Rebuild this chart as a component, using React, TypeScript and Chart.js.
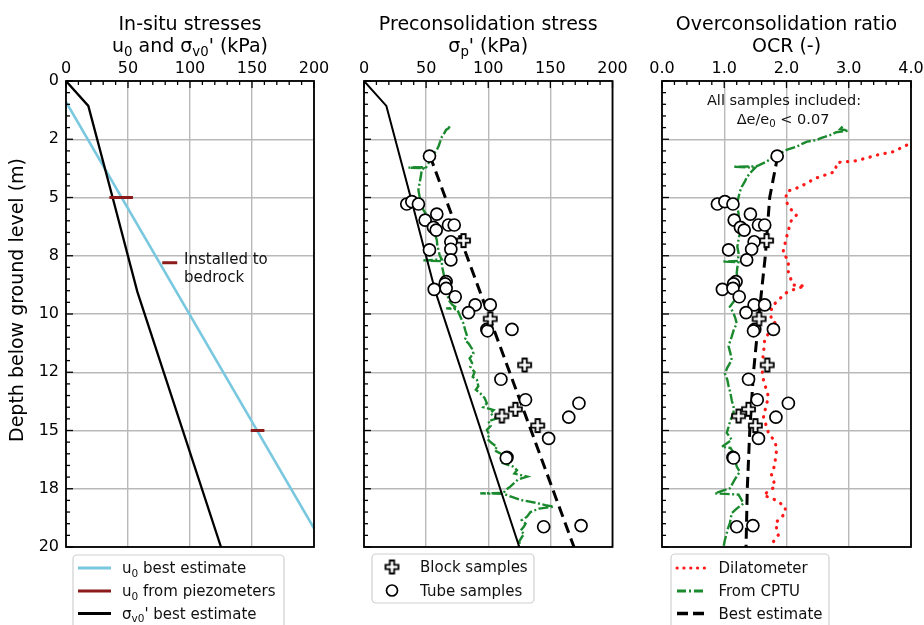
import React, { useEffect, useRef } from 'react';
import { Chart, registerables } from 'chart.js';
Chart.register(...registerables);

const FONT = "'DejaVu Sans', 'Liberation Sans', sans-serif";
const GRID = '#b9b9b9';

// ---------------- data ----------------
type Pt = [number, number]; // [depth (m), value]

const depthTickValues = [0, 2.5, 5, 7.5, 10, 12.5, 15, 17.5, 20];
const depthTickLabels = ['0', '2', '5', '8', '10', '12', '15', '18', '20'];
const stressTickValues = [0, 50, 100, 150, 200];
const stressTickLabels = ['0', '50', '100', '150', '200'];
const ocrTickValues = [0, 1, 2, 3, 4];
const ocrTickLabels = ['0.0', '1.0', '2.0', '3.0', '4.0'];

// panel 1
const u0Line: Pt[] = [[0.9, 0], [19.2, 200]];
const sigmaV0Line: Pt[] = [[0, 0], [1.07, 18], [5.0, 37.6], [9.04, 57.5], [20, 125]];
const piezoDepth = [5.0, 7.8, 15.0];
const piezoLowKpa = [35, 77.6, 149];
const piezoHighKpa = [54, 89.7, 160];

// panel 2
const cptuStress: Pt[] = [
  [1.95, 69], [2.03, 68], [2.1, 66], [2.17, 65.3], [2.3, 64], [2.45, 62], [2.6, 61.3], [2.8, 60], [2.96, 58.6],
  [3.1, 56.5], [3.25, 54.6], [3.4, 53], [3.53, 51.9], [3.7, 50], [3.72, 35.7], [3.74, 48], [3.82, 46.5],
  [4.0, 46], [4.25, 45.2], [4.45, 44.5], [4.68, 43.8], [4.9, 44.5], [5.1, 45.2], [5.3, 46.5], [5.54, 47.8],
  [5.75, 50.5], [5.97, 53.2], [6.2, 54.5], [6.4, 55.9], [6.6, 57.2], [6.82, 58.6], [7.05, 59], [7.25, 59.9],
  [7.5, 61], [7.66, 62.7], [7.7, 47.8], [7.73, 62.5], [8.0, 63], [8.25, 64], [8.5, 65], [8.83, 66.1],
  [9.1, 67], [9.4, 68], [9.6, 71], [9.74, 74.7], [9.76, 66.1], [9.8, 75], [10.1, 77.4], [10.4, 80],
  [10.7, 81.5], [10.95, 83], [11.1, 81], [11.26, 84.1], [11.5, 87], [11.7, 88.1], [11.9, 85], [12.1, 87],
  [12.26, 85.5], [12.5, 89], [12.7, 87.5], [12.83, 90.9], [13.1, 92], [13.25, 90], [13.4, 93.5], [13.6, 97],
  [13.83, 98.9], [14.0, 96], [14.12, 104.3], [14.26, 101.6], [14.48, 107], [14.6, 100], [14.8, 102],
  [14.98, 98.9], [15.2, 101], [15.35, 99], [15.55, 103], [15.7, 107], [15.85, 105], [16.05, 112],
  [16.27, 115.1], [16.4, 112], [16.55, 120], [16.7, 123.1], [16.85, 121], [16.98, 131.2], [17.1, 124],
  [17.25, 121], [17.41, 117.7], [17.55, 114], [17.68, 112.3], [17.7, 93.5], [17.72, 112.3], [17.85, 119],
  [17.98, 125.8], [18.1, 138], [18.2, 146], [18.27, 152.7], [18.35, 141], [18.5, 134], [18.7, 131.2],
  [18.85, 127], [19.0, 130], [19.13, 128.6], [19.3, 126], [19.45, 129], [19.56, 127.2], [19.75, 125],
  [19.91, 125.3], [20.0, 124]
];
const bestStress: Pt[] = [[3.2, 53], [20, 169]];

// samples (shared depths)
const tubeDepth = [3.22, 5.28, 5.18, 5.28, 5.97, 5.71, 6.28, 6.40, 6.18, 6.18, 6.90, 7.22, 7.25, 7.68, 8.61, 8.71, 8.94,
  8.90, 9.26, 9.61, 9.94, 9.61, 10.66, 10.72, 10.66, 12.80, 13.68, 13.83, 14.43, 15.34, 16.15, 16.18, 19.13, 19.08];
const tubeKpa = [52.7, 34.4, 38.5, 43.8, 49.2, 58.6, 55.9, 58.1, 68.0, 72.6, 69.9, 69.9, 52.7, 69.9, 66.1, 65.3, 56.5,
  66.1, 73.4, 89.5, 84.1, 101.6, 98.9, 99.4, 119.1, 110.2, 130.0, 173.0, 164.8, 148.6, 115.1, 114.5, 144.6, 174.7];
const tubeOcr = [1.85, 0.89, 1.01, 1.14, 1.16, 1.42, 1.26, 1.32, 1.55, 1.65, 1.48, 1.44, 1.07, 1.36, 1.19, 1.15, 0.97,
  1.14, 1.24, 1.48, 1.35, 1.65, 1.49, 1.47, 1.79, 1.39, 1.53, 2.03, 1.83, 1.55, 1.14, 1.15, 1.20, 1.46];
const blockDepth = [6.85, 10.21, 12.19, 14.38, 14.09, 14.79];
const blockKpa = [80.1, 101.6, 129.3, 111.0, 121.8, 139.8];
const blockOcr = [1.68, 1.56, 1.69, 1.23, 1.39, 1.50];

// panel 3
const cptuOcrLine: Pt[] = [
  [1.95, 2.9], [2.07, 2.86], [2.13, 2.99], [2.2, 2.8], [2.32, 2.7], [2.45, 2.55], [2.53, 2.49], [2.6, 2.33],
  [2.7, 2.25], [2.82, 2.16], [2.96, 2.0], [3.1, 1.9], [3.25, 1.79], [3.46, 1.68], [3.66, 1.52], [3.68, 1.15],
  [3.72, 1.5], [3.96, 1.41], [4.15, 1.36], [4.32, 1.33], [4.55, 1.28], [4.75, 1.25], [5.1, 1.22], [5.39, 1.21],
  [5.7, 1.23], [5.97, 1.23], [6.25, 1.24], [6.54, 1.25], [6.8, 1.23], [7.11, 1.21], [7.4, 1.23], [7.72, 1.22],
  [7.75, 0.98], [7.78, 1.23], [8.0, 1.21], [8.25, 1.2], [8.55, 1.22], [8.83, 1.21], [9.1, 1.19], [9.4, 1.17],
  [9.69, 1.09], [9.97, 1.15], [10.2, 1.18], [10.4, 1.2], [10.7, 1.15], [10.97, 1.12], [11.2, 1.09],
  [11.4, 1.07], [11.7, 1.1], [11.97, 1.12], [12.3, 1.05], [12.55, 1.01], [12.83, 1.05], [13.1, 1.07],
  [13.4, 1.1], [13.7, 1.12], [14.0, 1.15], [14.26, 1.15], [14.55, 1.1], [14.84, 1.07], [15.1, 1.04],
  [15.4, 1.12], [15.7, 0.96], [15.75, 1.1], [16.05, 1.17], [16.3, 1.18], [16.55, 1.2], [16.77, 1.25],
  [17.1, 1.17], [17.48, 1.09], [17.7, 0.85], [17.75, 1.23], [18.13, 1.31], [18.35, 1.2], [18.55, 1.12],
  [18.98, 1.09], [19.2, 1.06], [19.41, 1.04], [19.7, 1.01], [19.95, 0.99]
];
const dilatometerOcr: Pt[] = [
  [2.75, 3.93], [3.03, 3.72], [3.18, 3.45], [3.42, 3.13], [3.5, 2.81], [3.89, 2.78], [4.18, 2.46], [4.54, 2.22],
  [4.75, 2.0], [5.1, 1.99], [5.39, 2.03], [5.75, 2.16], [5.97, 2.08], [6.4, 2.03], [6.82, 1.99], [7.4, 1.94],
  [7.68, 2.03], [8.25, 2.03], [8.76, 2.11], [8.8, 2.3], [8.9, 2.16], [9.11, 1.98], [9.4, 1.87], [9.69, 1.76],
  [10.26, 1.75], [10.4, 1.83], [10.7, 1.74], [11.1, 1.65], [11.7, 1.63], [12.26, 1.6], [12.83, 1.63],
  [13.55, 1.71], [14.4, 1.63], [15.1, 1.71], [15.5, 1.82], [15.84, 1.84], [16.27, 1.82], [16.7, 1.79],
  [16.9, 1.76], [17.4, 1.82], [17.77, 1.63], [17.98, 1.82], [18.27, 1.98], [18.55, 1.98], [18.98, 1.82],
  [19.48, 1.87], [19.77, 1.79]
];
const bestOcrLine: Pt[] = [[3.2, 1.86], [5.0, 1.73], [7.5, 1.66], [10, 1.56], [12.5, 1.47], [15, 1.41], [17.5, 1.37], [20, 1.35]];

// ---------------- helpers ----------------
type Seg = [string, boolean];

function labelFor(values: number[], labels: string[], v: number) {
  const k = values.findIndex((t) => Math.abs(t - v) < 1e-6);
  return k >= 0 ? labels[k] : '';
}

function drawRich(ctx: CanvasRenderingContext2D, segs: Seg[], x: number, y: number, size: number, align: 'left' | 'center', color = '#000') {
  const sub = size * 0.7;
  let total = 0;
  for (const [t, s] of segs) {
    ctx.font = `${s ? sub : size}px ${FONT}`;
    total += ctx.measureText(t).width;
  }
  let cx = align === 'center' ? x - total / 2 : x;
  ctx.textAlign = 'left';
  ctx.textBaseline = 'alphabetic';
  ctx.fillStyle = color;
  for (const [t, s] of segs) {
    ctx.font = `${s ? sub : size}px ${FONT}`;
    ctx.fillText(t, cx, s ? y + size * 0.22 : y);
    cx += ctx.measureText(t).width;
  }
}

function makePlus(size: number) {
  const c = document.createElement('canvas');
  const pad = 2;
  c.width = c.height = size + pad * 2;
  const ctx = c.getContext('2d')!;
  const o = pad, s = size, t = size / 3;
  const a = o + (s - t) / 2, b = a + t;
  ctx.beginPath();
  ctx.moveTo(a, o); ctx.lineTo(b, o); ctx.lineTo(b, a); ctx.lineTo(o + s, a); ctx.lineTo(o + s, b);
  ctx.lineTo(b, b); ctx.lineTo(b, o + s); ctx.lineTo(a, o + s); ctx.lineTo(a, b); ctx.lineTo(o, b);
  ctx.lineTo(o, a); ctx.lineTo(a, a); ctx.closePath();
  ctx.fillStyle = '#fff'; ctx.fill();
  ctx.lineWidth = 1.8; ctx.strokeStyle = '#000'; ctx.lineJoin = 'miter'; ctx.stroke();
  return c;
}

const toXY = (pts: Pt[]) => pts.map(([d, v]) => ({ x: v, y: d }));
const zipXY = (depths: number[], vals: number[]) => depths.map((d, i) => ({ x: vals[i], y: d }));

type LegendItem = { text: Seg[]; kind: 'line' | 'plus' | 'circle'; color?: string; width?: number; dash?: number[]; cap?: CanvasLineCap };
type Note = { x: number; y: number; segs: Seg[]; align: 'left' | 'center'; size: number };

interface Panel {
  canvasLeft: number; canvasWidth: number; plotLeft: number; plotRight: number;
  xMax: number; xStep: number; xMinor: number; xValues: number[]; xLabels: string[];
  title1: string; title2: Seg[]; yLabels: boolean;
  legend: { left: number; top: number; width: number; height: number; lineX: [number, number]; textX: number; ys: number[]; items: LegendItem[] };
  notes: Note[];
}

const PLOT_TOP = 81, PLOT_BOTTOM = 547;

const LAYOUT = [
  { canvasLeft: 0, canvasWidth: 340 },
  { canvasLeft: 340, canvasWidth: 300 },
  { canvasLeft: 640, canvasWidth: 284 },
];

const CPTU_STYLE = { color: '#1b8a2e', width: 2.4, dash: [10, 2.5, 2, 2.5] };
const DMT_STYLE = { color: '#ff1a1a', width: 3.2, dash: [0.3, 7.4] };
const BEST_STYLE = { color: '#000', width: 3, dash: [11, 6] };

function buildPanels(): Panel[] {
  return [
    {
      ...LAYOUT[0], plotLeft: 66, plotRight: 314, xMax: 200, xStep: 50, xMinor: 10,
      xValues: stressTickValues, xLabels: stressTickLabels,
      title1: 'In-situ stresses', title2: [['u', false], ['0', true], [' and σ', false], ['v0', true], ["' (kPa)", false]],
      yLabels: true,
      legend: {
        left: 73, top: 555, width: 211, height: 90, lineX: [78, 111], textX: 122, ys: [568, 591, 613.5],
        items: [
          { text: [['u', false], ['0', true], [' best estimate', false]], kind: 'line', color: '#79c8e0', width: 3 },
          { text: [['u', false], ['0', true], [' from piezometers', false]], kind: 'line', color: '#8b1a1a', width: 3 },
          { text: [['σ', false], ['v0', true], ["' best estimate", false]], kind: 'line', color: '#000', width: 3 },
        ],
      },
      notes: [
        { x: 184, y: 263.5, segs: [['Installed to', false]], align: 'left', size: 15 },
        { x: 184, y: 282, segs: [['bedrock', false]], align: 'left', size: 15 },
      ],
    },
    {
      ...LAYOUT[1], plotLeft: 364, plotRight: 612.5, xMax: 200, xStep: 50, xMinor: 10,
      xValues: stressTickValues, xLabels: stressTickLabels,
      title1: 'Preconsolidation stress', title2: [['σ', false], ['p', true], ["' (kPa)", false]],
      yLabels: false,
      legend: {
        left: 372, top: 554, width: 162, height: 49, lineX: [385, 399], textX: 420, ys: [567, 590.5],
        items: [
          { text: [['Block samples', false]], kind: 'plus' },
          { text: [['Tube samples', false]], kind: 'circle' },
        ],
      },
      notes: [],
    },
    {
      ...LAYOUT[2], plotLeft: 662, plotRight: 911, xMax: 4, xStep: 1, xMinor: 0.2,
      xValues: ocrTickValues, xLabels: ocrTickLabels,
      title1: 'Overconsolidation ratio', title2: [['OCR (-)', false]],
      yLabels: false,
      legend: {
        left: 671, top: 554, width: 158, height: 90, lineX: [677, 705], textX: 718.5, ys: [568, 591, 613.5],
        items: [
          { text: [['Dilatometer', false]], kind: 'line', color: DMT_STYLE.color, width: 3, dash: [0.3, 6.5], cap: 'round' },
          { text: [['From CPTU', false]], kind: 'line', color: CPTU_STYLE.color, width: 3, dash: [9, 3, 2, 3] },
          { text: [['Best estimate', false]], kind: 'line', color: '#000', width: 3.5, dash: [11, 5] },
        ],
      },
      notes: [
        { x: 784, y: 105, segs: [['All samples included:', false]], align: 'center', size: 14.5 },
        { x: 783, y: 124, segs: [['Δe/e', false], ['0', true], [' < 0.07', false]], align: 'center', size: 14.5 },
      ],
    },
  ];
}

function lineDs(data: { x: number; y: number }[], color: string, width: number, dash: number[] = [], order = 5, cap: CanvasLineCap = 'butt') {
  return {
    data, showLine: true, borderColor: color, backgroundColor: color, borderWidth: width, borderDash: dash,
    borderCapStyle: cap, pointRadius: 0, pointHoverRadius: 0, fill: false, tension: 0, order, spanGaps: false,
  };
}

function buildDatasets(i: number, plus: HTMLCanvasElement) {
  const tubeStyle = { pointStyle: 'circle', pointRadius: 6, pointBackgroundColor: '#fff', pointBorderColor: '#000', pointBorderWidth: 1.7, showLine: false, order: 1 };
  const blockStyle = { pointStyle: plus, pointRadius: 7, showLine: false, order: 0 };
  if (i === 0) {
    const piezo = piezoDepth.map((d, k) => lineDs([{ x: piezoLowKpa[k], y: d }, { x: piezoHighKpa[k], y: d }], '#8b1a1a', 3, [], 2));
    return [
      ...piezo,
      lineDs(toXY(sigmaV0Line), '#000', 2.3, [], 3),
      lineDs(toXY(u0Line), '#79c8e0', 2.6, [], 4),
    ];
  }
  if (i === 1) {
    return [
      { data: zipXY(blockDepth, blockKpa), ...blockStyle },
      { data: zipXY(tubeDepth, tubeKpa), ...tubeStyle },
      lineDs(toXY(bestStress), BEST_STYLE.color, BEST_STYLE.width, BEST_STYLE.dash, 2),
      lineDs(toXY(sigmaV0Line), '#000', 2, [], 3),
      lineDs(toXY(cptuStress), CPTU_STYLE.color, CPTU_STYLE.width, CPTU_STYLE.dash, 4),
    ];
  }
  return [
    { data: zipXY(blockDepth, blockOcr), ...blockStyle },
    { data: zipXY(tubeDepth, tubeOcr), ...tubeStyle },
    lineDs(toXY(bestOcrLine), BEST_STYLE.color, BEST_STYLE.width, BEST_STYLE.dash, 2),
    lineDs(toXY(dilatometerOcr), DMT_STYLE.color, DMT_STYLE.width, DMT_STYLE.dash, 3, 'round'),
    lineDs(toXY(cptuOcrLine), CPTU_STYLE.color, CPTU_STYLE.width, CPTU_STYLE.dash, 4),
  ];
}

function decorPlugin(p: Panel, plus: HTMLCanvasElement) {
  const off = p.canvasLeft;
  return {
    id: 'decor',
    afterDatasetsDraw(chart: any) {
      const { ctx, chartArea: a, scales } = chart;
      ctx.save();
      ctx.strokeStyle = '#000';
      ctx.lineWidth = 1.3;
      ctx.setLineDash([]);
      for (let k = 0; k <= 40; k++) {
        const d = k * 0.5;
        const py = scales.y.getPixelForValue(d);
        const len = k % 5 === 0 ? 7 : 4;
        ctx.beginPath(); ctx.moveTo(a.left, py); ctx.lineTo(a.left + len, py); ctx.stroke();
      }
      const nMinor = Math.round(p.xMax / p.xMinor);
      const per = Math.round(p.xStep / p.xMinor);
      for (let k = 0; k <= nMinor; k++) {
        const px = scales.x.getPixelForValue(k * p.xMinor);
        const len = k % per === 0 ? 7 : 4;
        ctx.beginPath(); ctx.moveTo(px, a.top); ctx.lineTo(px, a.top + len); ctx.stroke();
      }
      ctx.lineWidth = 1.8;
      ctx.strokeRect(a.left, a.top, a.right - a.left, a.bottom - a.top);
      ctx.restore();
    },
    afterDraw(chart: any) {
      const { ctx, chartArea: a } = chart;
      ctx.save();
      const cx = (a.left + a.right) / 2;
      drawRich(ctx, [[p.title1, false]], cx, 29.5, 19, 'center');
      drawRich(ctx, p.title2, cx, 51.5, 19, 'center');
      if (p.yLabels) {
        ctx.save();
        ctx.translate(18, 300);
        ctx.rotate(-Math.PI / 2);
        ctx.font = `19px ${FONT}`;
        ctx.fillStyle = '#000';
        ctx.textAlign = 'center';
        ctx.textBaseline = 'middle';
        ctx.fillText('Depth below ground level (m)', 0, 0);
        ctx.restore();
      }
      for (const n of p.notes) drawRich(ctx, n.segs, n.x - off, n.y, n.size, n.align, '#111');
      // legend
      const L = p.legend;
      const lx = L.left - off;
      ctx.beginPath();
      ctx.roundRect(lx, L.top, L.width, L.height, 4);
      ctx.fillStyle = 'rgba(255,255,255,0.85)';
      ctx.fill();
      ctx.strokeStyle = '#d0d0d0';
      ctx.lineWidth = 1.2;
      ctx.stroke();
      L.items.forEach((it, k) => {
        const y = L.ys[k];
        if (it.kind === 'line') {
          ctx.save();
          ctx.strokeStyle = it.color!;
          ctx.lineWidth = it.width!;
          ctx.lineCap = it.cap || 'butt';
          ctx.setLineDash(it.dash || []);
          ctx.beginPath(); ctx.moveTo(L.lineX[0] - off, y); ctx.lineTo(L.lineX[1] - off, y); ctx.stroke();
          ctx.restore();
        } else if (it.kind === 'plus') {
          const mx = (L.lineX[0] + L.lineX[1]) / 2 - off;
          ctx.drawImage(plus, mx - plus.width / 2, y - plus.height / 2);
        } else {
          const mx = (L.lineX[0] + L.lineX[1]) / 2 - off;
          ctx.beginPath(); ctx.arc(mx, y, 5.5, 0, Math.PI * 2);
          ctx.fillStyle = '#fff'; ctx.fill();
          ctx.strokeStyle = '#000'; ctx.lineWidth = 1.7; ctx.setLineDash([]); ctx.stroke();
        }
        drawRich(ctx, it.text, L.textX - off, y + 15 * 0.36, 15, 'left', '#111');
      });
      ctx.restore();
    },
  };
}

function buildConfig(p: Panel, i: number, plus: HTMLCanvasElement): any {
  const tickFont = { family: FONT, size: 16 };
  return {
    type: 'scatter',
    data: { datasets: buildDatasets(i, plus) },
    options: {
      animation: false,
      responsive: false,
      devicePixelRatio: 1,
      events: [],
      layout: { padding: { left: 0, top: 0, right: p.canvasWidth - (p.plotRight - p.canvasLeft), bottom: 625 - PLOT_BOTTOM } },
      plugins: { legend: { display: false }, tooltip: { enabled: false }, title: { display: false } },
      scales: {
        x: {
          type: 'linear', position: 'top', min: 0, max: p.xMax,
          ticks: {
            stepSize: p.xStep, font: tickFont, color: '#000', padding: 2.5, maxRotation: 0, autoSkip: false,
            callback: (v: number) => labelFor(p.xValues, p.xLabels, v),
          },
          grid: { color: GRID, lineWidth: 1.4, drawTicks: false },
          border: { display: false },
          afterFit: (s: any) => { s.height = PLOT_TOP; s.paddingLeft = 0; s.paddingRight = 0; },
        },
        y: {
          type: 'linear', reverse: true, min: 0, max: 20,
          ticks: {
            stepSize: 2.5, display: p.yLabels, font: tickFont, color: '#000', padding: 7, autoSkip: false,
            callback: (v: number) => labelFor(depthTickValues, depthTickLabels, v),
          },
          grid: { color: GRID, lineWidth: 1.4, drawTicks: false },
          border: { display: false },
          afterFit: (s: any) => { s.width = p.plotLeft - p.canvasLeft; },
        },
      },
    },
    plugins: [decorPlugin(p, plus)],
  };
}

export default function App() {
  const r0 = useRef<HTMLCanvasElement>(null);
  const r1 = useRef<HTMLCanvasElement>(null);
  const r2 = useRef<HTMLCanvasElement>(null);
  useEffect(() => {
    const plus = makePlus(13);
    const panels = buildPanels();
    const refs = [r0, r1, r2];
    const charts = panels.map((p, i) => new Chart(refs[i].current!, buildConfig(p, i, plus)));
    return () => charts.forEach((c) => c.destroy());
  }, []);
  const refs = [r0, r1, r2];
  return (
    <div style={{ position: 'absolute', left: 0, top: 0, width: 924, height: 625, background: '#fff', overflow: 'hidden' }}>
      {LAYOUT.map((l, i) => (
        <canvas
          key={i}
          ref={refs[i]}
          width={l.canvasWidth}
          height={625}
          style={{ position: 'absolute', left: l.canvasLeft, top: 0, width: l.canvasWidth, height: 625 }}
        />
      ))}
    </div>
  );
}
